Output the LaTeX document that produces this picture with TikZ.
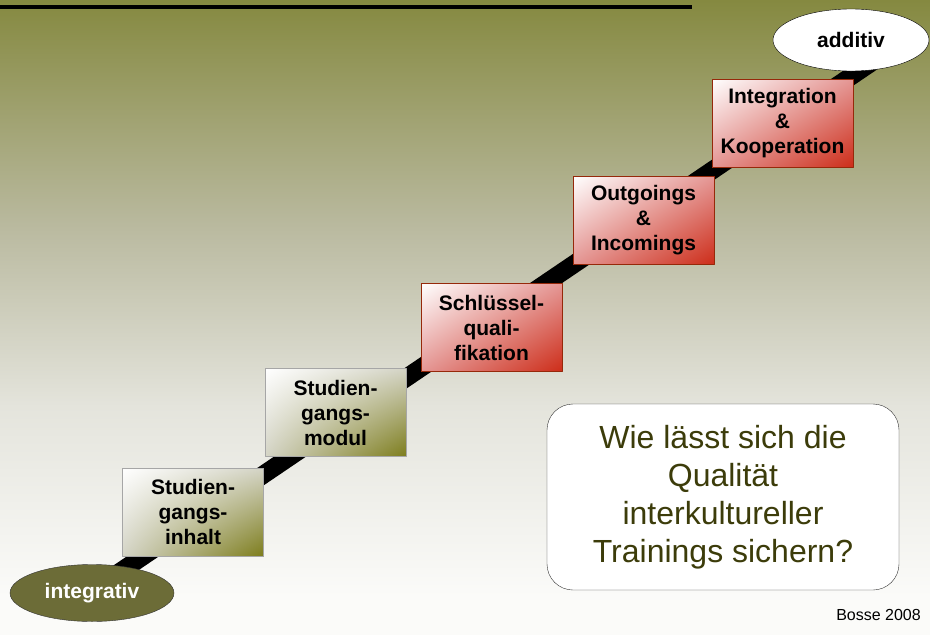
\documentclass[tikz,border=0pt]{standalone}
\usepackage{fontspec}
\setmainfont{Liberation Sans}
\usetikzlibrary{backgrounds,shadings,shapes.geometric}
\definecolor{olivetop}{RGB}{133,137,64}
\definecolor{bgmid}{RGB}{186,186,160}
\definecolor{bglight}{RGB}{228,228,220}
\definecolor{bgwhite}{RGB}{251,251,249}
\definecolor{olivebox}{RGB}{125,125,28}
\definecolor{olivemid}{RGB}{212,212,198}
\definecolor{redbox}{RGB}{205,45,25}
\definecolor{redmid}{RGB}{228,150,148}
\definecolor{redrand}{RGB}{150,40,10}
\definecolor{ovalfill}{RGB}{108,108,55}
\definecolor{fragetext}{RGB}{60,60,10}
\pgfdeclareverticalshading{folie}{100bp}{color(0bp)=(bgwhite); color(28bp)=(bgwhite); color(43bp)=(bglight); color(57bp)=(bgmid); color(75bp)=(olivetop); color(100bp)=(olivetop)}
\begin{document}
\begin{tikzpicture}[x=1pt,y=-1pt, line join=round,
    stufe/.style={rectangle, minimum width=141pt, minimum height=88pt, inner sep=0pt, align=center, font=\fontsize{21}{25}\selectfont\bfseries},
    stufeoliv/.style={stufe, draw=gray!70, shade, upper left=white, upper right=olivemid, lower left=olivemid, lower right=olivebox},
    stuferot/.style={stufe, draw=redrand, shade, upper left=white, upper right=redmid, lower left=redmid, lower right=redbox},
    pol/.style={ellipse, inner sep=0pt, font=\fontsize{21}{24}\selectfont\bfseries}]
    \useasboundingbox (0,0) rectangle (930,635);
    % Stufen
    \node[stufeoliv] (inhalt) at (193,512) {Studien-\\gangs-\\inhalt};
    \node[stufeoliv] (modul) at (335.5,412.5) {Studien-\\gangs-\\modul};
    \node[stuferot] (schluessel) at (491.5,327.5) {Schlüssel-\\quali-\\fikation};
    \node[stuferot] (outgoings) at (643.5,220.5) {Outgoings\\\&\\Incomings};
    \node[stuferot] (integration) at (782.5,123) {Integration\\\&\\Kooperation};
    % Pole
    \node[pol, draw=black!80, fill=ovalfill, text=white, minimum width=164pt, minimum height=57pt] (integrativ) at (92,593) {integrativ};
    \node[pol, draw=black, fill=white, minimum width=156pt, minimum height=62pt] (additiv) at (851,40) {additiv};
    \coordinate (fuss) at (108,580);
    \coordinate (spitze) at (878,58);
    % Frage
    \node[draw=black!80, fill=white, rounded corners=26pt, minimum width=352pt, minimum height=186pt, align=center, text=fragetext, font=\fontsize{32}{38}\selectfont] (frage) at (723,497) {Wie lässt sich die\\Qualität\\interkultureller\\Trainings sichern?};
    \node[anchor=base east, inner sep=0pt, font=\fontsize{16}{18}\selectfont] (quelle) at (921,620) {Bosse 2008};
    \begin{scope}[on background layer]
        \shade[shading=folie] (0,0) rectangle (930,635);
        \draw[line width=4pt] (0,7)--(692,7);
        \draw[line width=18pt] (fuss)--(spitze);
    \end{scope}
\end{tikzpicture}
\end{document}
